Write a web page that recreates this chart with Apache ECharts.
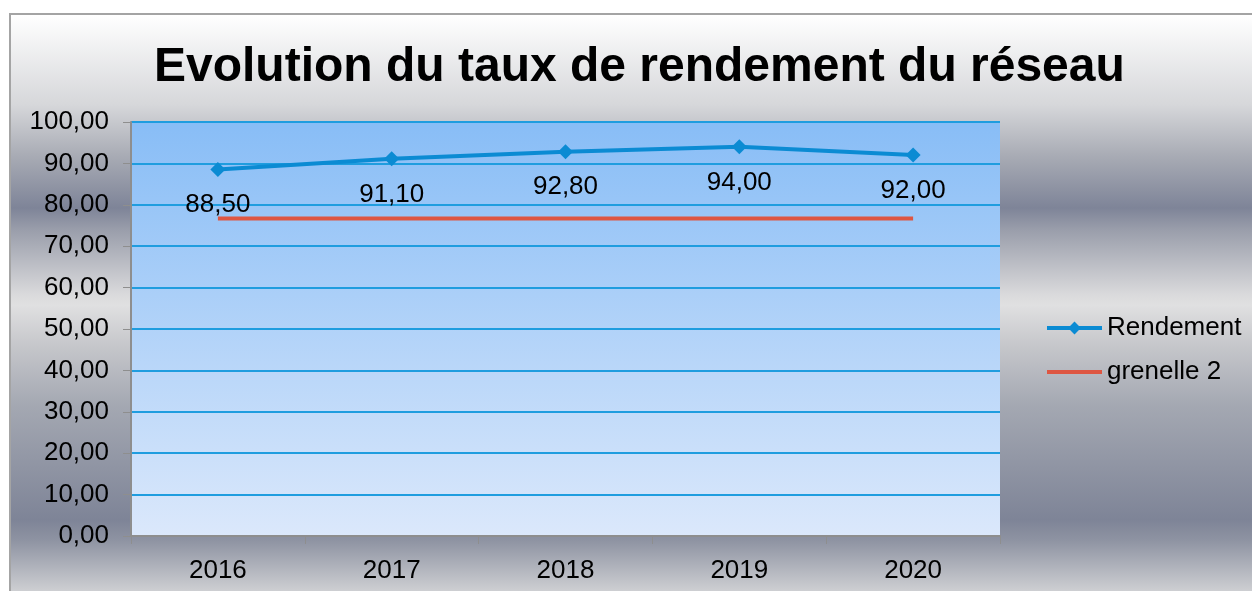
<!DOCTYPE html>
<html>
<head>
<meta charset="utf-8">
<title>Evolution du taux de rendement du réseau</title>
<script src="https://cdn.jsdelivr.net/npm/echarts@6/dist/echarts.min.js"></script>
<style>
    html, body { margin: 0; padding: 0; background: #fff; }
    #frame {
        position: absolute; left: 9px; top: 13px; width: 1260px; height: 600px;
        border-left: 2px solid #a4a4a4; border-top: 2px solid #a4a4a4;
        background: linear-gradient(to bottom,
            #ffffff 0px, #d6d7da 90px, #a9acb5 140px, #7e8498 193px,
            #9a9eab 215px, #dadadc 280px, #e0e0e1 290px,
            #c6c7cb 330px, #a4a8b2 390px, #7e8497 505px,
            #8e93a2 525px, #d0d1d4 578px);
    }
    #main { position: absolute; left: 0; top: 0; width: 1252px; height: 591px; }
</style>
</head>
<body>
<div id="frame"></div>
<div id="main"></div>
<script>
    var years = ['2016', '2017', '2018', '2019', '2020'];
    var rendement = [88.5, 91.1, 92.8, 94.0, 92.0];
    var grenelle = [76.7, 76.7, 76.7, 76.7, 76.7];

    var fmt = function (v) { return Number(v).toFixed(2).replace('.', ','); };

    var chart = echarts.init(document.getElementById('main'));
    chart.setOption({
        backgroundColor: 'transparent',
        textStyle: { fontFamily: 'Liberation Sans, Arial, sans-serif' },
        title: {
            text: 'Evolution du taux de rendement du réseau',
            left: 149,
            top: 39,
            textStyle: { fontSize: 48, fontWeight: 'bold', color: '#000' }
        },
        legend: {
            orient: 'vertical',
            left: 1040,
            top: 310,
            itemWidth: 55,
            itemHeight: 16,
            itemGap: 18,
            lineStyle: { width: 4 },
            textStyle: { fontSize: 26, color: '#000' },
            data: [
                { name: 'Rendement' },
                { name: 'grenelle 2', itemStyle: { opacity: 0 } }
            ]
        },
        grid: { left: 131, top: 122, width: 869, height: 414, containLabel: false },
        xAxis: {
            type: 'category',
            data: years,
            axisLine: { lineStyle: { color: '#8e8e8e', width: 2 } },
            axisTick: { show: true, length: 8, lineStyle: { color: '#8e8e8e' } },
            axisLabel: { fontSize: 26, color: '#000', margin: 22 }
        },
        yAxis: {
            type: 'value',
            min: 0, max: 100, interval: 10,
            axisLine: { show: true, lineStyle: { color: '#8e8e8e', width: 2 } },
            axisTick: { show: true, length: 8, lineStyle: { color: '#8e8e8e' } },
            axisLabel: { fontSize: 26, color: '#000', margin: 22, formatter: fmt },
            splitLine: { lineStyle: { color: '#1f9ddf', width: 2 } }
        },
        graphic: [{
            type: 'rect',
            z: -1,
            shape: { x: 131, y: 122, width: 869, height: 414 },
            style: {
                fill: new echarts.graphic.LinearGradient(0, 0, 0, 1, [
                    { offset: 0, color: '#88bdf6' },
                    { offset: 1, color: '#dbe8fb' }
                ])
            }
        }],
        series: [
            {
                name: 'Rendement',
                type: 'line',
                data: rendement,
                symbol: 'diamond',
                symbolSize: 15,
                color: '#0b8bd3',
                lineStyle: { width: 4, color: '#0b8bd3' },
                itemStyle: { color: '#0b8bd3' },
                label: {
                    show: true, position: 'bottom', distance: 15,
                    fontSize: 26, color: '#000', formatter: function (p) { return fmt(p.value); }
                },
                z: 3
            },
            {
                name: 'grenelle 2',
                type: 'line',
                data: grenelle,
                symbol: 'none',
                color: '#de5642',
                lineStyle: { width: 4, color: '#de5642' },
                z: 2
            }
        ]
    });
</script>
</body>
</html>
